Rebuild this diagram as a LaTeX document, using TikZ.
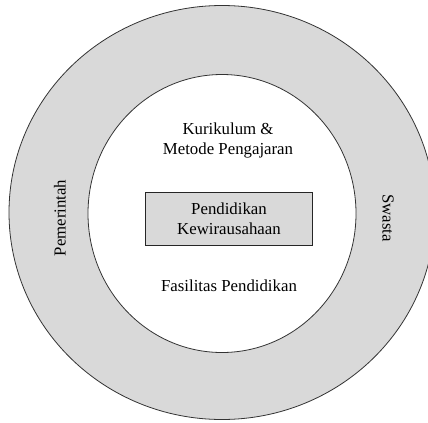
\documentclass[tikz,border=0pt]{standalone}
\usepackage{fontspec}
\setmainfont{Liberation Serif}
\usepackage{tikz}
\usetikzlibrary{positioning}
\definecolor{ringgray}{gray}{0.85}

\begin{document}
\begin{tikzpicture}
    [x=0.75pt, y=-0.75pt,
     every node/.style={align=center, font=\fontsize{12.6}{15}\selectfont, inner sep=0pt},
     ring/.style={draw=black!80, line width=0.6pt},
     corebox/.style={draw=black!85, line width=0.7pt, fill=ringgray,
                     minimum width=125pt, minimum height=40pt}]
    \useasboundingbox (0,0) rectangle (428,422);
    \clip (0,0) rectangle (428,422);

    % rings
    \draw [ring, fill=ringgray] (222,212.5) ellipse [x radius=213, y radius=207];
    \draw [ring, fill=white] (222,213.5) ellipse [x radius=134, y radius=139];

    \node [corebox] (core) at (229,219) {Pendidikan\\Kewirausahaan};
    \node (kur) at (228,140) {Kurikulum \&\\Metode Pengajaran};
    \node (fas) at (229,286) {Fasilitas Pendidikan};

    \node (gov) [rotate=90] at (60,218) {Pemerintah};
    \node (pri) [rotate=-90] at (388,218) {Swasta};
  \end{tikzpicture}
\end{document}
